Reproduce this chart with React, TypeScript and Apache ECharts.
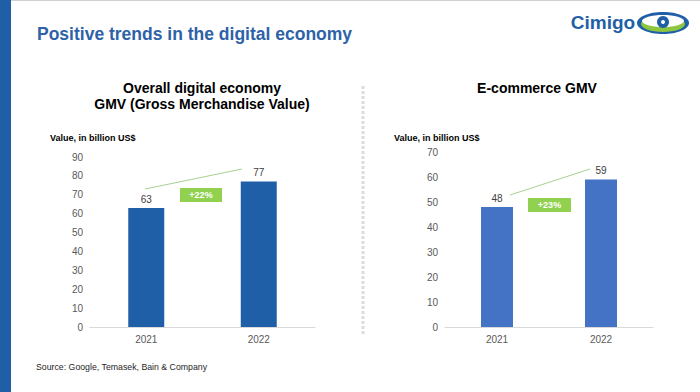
import React, { useEffect, useRef } from "react";
import * as echarts from "echarts";

const years = ["2021", "2022"];
const gmvValues = [63, 77];
const ecomValues = [48, 59];
const gmvGrowth = "+22%";
const ecomGrowth = "+23%";
const pageTitle = "Positive trends in the digital economy";
const leftTitle = "Overall digital economy\nGMV (Gross Merchandise Value)";
const rightTitle = "E-commerce GMV";
const unitLabel = "Value, in billion US$";
const sourceText = "Source: Google, Temasek, Bain & Company";

const FONT = "'Liberation Sans', Arial, sans-serif";

export default function App() {
  const ref = useRef<HTMLDivElement>(null);
  useEffect(() => {
    if (!ref.current) return;
    const chart = echarts.init(ref.current, null, { renderer: "svg" });
    const axisLabel = { color: "#595959", fontSize: 10, fontFamily: FONT };
    const option: any = {
      animation: false,
      backgroundColor: "#ffffff",
      textStyle: { fontFamily: FONT },
      grid: [
        { left: 90, width: 225, top: 157, height: 170 },
        { left: 445, width: 208, top: 152, height: 175 },
      ],
      xAxis: [
        {
          gridIndex: 0, type: "category", data: years,
          axisLine: { lineStyle: { color: "#d9d9d9" } }, axisTick: { show: false },
          axisLabel: { ...axisLabel, margin: 7 },
        },
        {
          gridIndex: 1, type: "category", data: years,
          axisLine: { lineStyle: { color: "#d9d9d9" } }, axisTick: { show: false },
          axisLabel: { ...axisLabel, margin: 7 },
        },
      ],
      yAxis: [
        {
          gridIndex: 0, type: "value", min: 0, max: 90, interval: 10,
          axisLine: { show: false }, axisTick: { show: false }, splitLine: { show: false },
          axisLabel: { ...axisLabel, margin: 7 },
        },
        {
          gridIndex: 1, type: "value", min: 0, max: 70, interval: 10,
          axisLine: { show: false }, axisTick: { show: false }, splitLine: { show: false },
          axisLabel: { ...axisLabel, margin: 7 },
        },
      ],
      series: [
        {
          type: "bar", xAxisIndex: 0, yAxisIndex: 0, data: gmvValues, barWidth: 36,
          itemStyle: { color: "#1f5fa8" },
          label: { show: true, position: "top", color: "#404040", fontSize: 10, distance: 4 },
        },
        {
          type: "bar", xAxisIndex: 1, yAxisIndex: 1, data: ecomValues, barWidth: 32,
          itemStyle: { color: "#4472c4" },
          label: { show: true, position: "top", color: "#404040", fontSize: 10, distance: 4 },
        },
      ],
      graphic: [
        { type: "rect", shape: { x: 0, y: 0, width: 11, height: 392 }, style: { fill: "#1f5fa8" } },
        { type: "rect", shape: { x: 11, y: 0, width: 689, height: 1 }, style: { fill: "#d0d0d0" } },
        {
          type: "text", x: 37, y: 34,
          style: { text: pageTitle, fill: "#2e62a8", font: `bold 17.5px ${FONT}`, textVerticalAlign: "middle" },
        },
        {
          type: "text", x: 603, y: 22,
          style: { text: "Cimigo", fill: "#1f5fa8", font: `bold 19px ${FONT}`, textAlign: "center", textVerticalAlign: "middle" },
        },
        { type: "ellipse", shape: { cx: 663, cy: 23, rx: 26, ry: 11 }, style: { fill: "#1f5fa8" } },
        { type: "ellipse", shape: { cx: 663, cy: 24, rx: 22, ry: 8 }, style: { fill: "#8cc63f" } },
        { type: "ellipse", shape: { cx: 663, cy: 21, rx: 21, ry: 6 }, style: { fill: "#ffffff" } },
        { type: "circle", shape: { cx: 663, cy: 22, r: 6 }, style: { fill: "#1f5fa8" } },
        { type: "circle", shape: { cx: 663, cy: 22, r: 2 }, style: { fill: "#ffffff" } },
        {
          type: "text", x: 202, y: 96,
          style: { text: leftTitle, fill: "#000000", font: `bold 14px ${FONT}`, textAlign: "center", textVerticalAlign: "middle", lineHeight: 16 },
        },
        {
          type: "text", x: 537, y: 88,
          style: { text: rightTitle, fill: "#000000", font: `bold 14px ${FONT}`, textAlign: "center", textVerticalAlign: "middle" },
        },
        {
          type: "text", x: 50, y: 138,
          style: { text: unitLabel, fill: "#000000", font: `bold 9px ${FONT}`, textVerticalAlign: "middle" },
        },
        {
          type: "text", x: 394, y: 138,
          style: { text: unitLabel, fill: "#000000", font: `bold 9px ${FONT}`, textVerticalAlign: "middle" },
        },
        {
          type: "line", shape: { x1: 363, y1: 86, x2: 363, y2: 335 },
          style: { stroke: "#dcdcdc", lineWidth: 3, lineDash: [3, 2] },
        },
        { type: "line", shape: { x1: 145, y1: 189, x2: 242, y2: 169 }, style: { stroke: "#a9d18e", lineWidth: 1 } },
        { type: "rect", shape: { x: 180, y: 188, width: 42, height: 14 }, style: { fill: "#92d050" } },
        {
          type: "text", x: 201, y: 195,
          style: { text: gmvGrowth, fill: "#ffffff", font: `bold 9px ${FONT}`, textAlign: "center", textVerticalAlign: "middle" },
        },
        { type: "line", shape: { x1: 510, y1: 195, x2: 590, y2: 169 }, style: { stroke: "#a9d18e", lineWidth: 1 } },
        { type: "rect", shape: { x: 528, y: 198, width: 43, height: 14 }, style: { fill: "#92d050" } },
        {
          type: "text", x: 549.5, y: 205,
          style: { text: ecomGrowth, fill: "#ffffff", font: `bold 9px ${FONT}`, textAlign: "center", textVerticalAlign: "middle" },
        },
        {
          type: "text", x: 36, y: 367,
          style: { text: sourceText, fill: "#262626", font: `8.75px ${FONT}`, textVerticalAlign: "middle" },
        },
      ],
    };
    chart.setOption(option);
    return () => chart.dispose();
  }, []);
  return (
    <div
      ref={ref}
      style={{ position: "fixed", left: 0, top: 0, width: 700, height: 392 }}
    />
  );
}
